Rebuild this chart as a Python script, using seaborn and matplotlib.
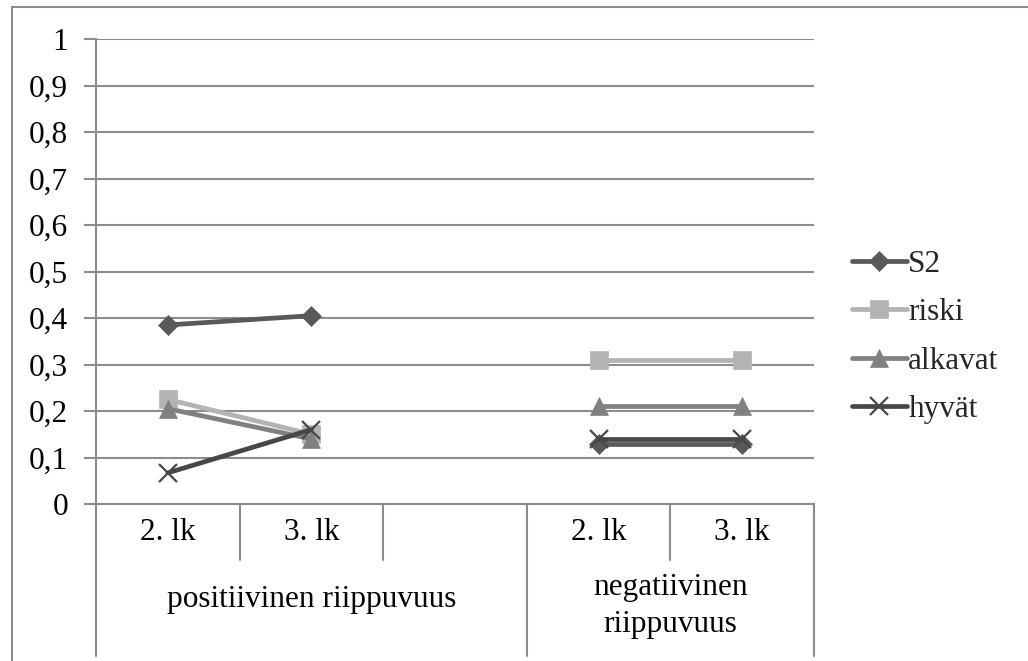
import numpy as np
import pandas as pd
import matplotlib
matplotlib.use("Agg")
import matplotlib.pyplot as plt
import matplotlib.transforms as mtransforms
from matplotlib.lines import Line2D
from matplotlib.patches import Rectangle
import seaborn as sns

# --- data -------------------------------------------------------------
grade_labels = ["2. lk", "3. lk", "", "2. lk", "3. lk"]
group_labels = ["positiivinen riippuvuus", "negatiivinen\nriippuvuus"]
group_spans = [(0, 2), (3, 4)]          # first/last category index of each group
series_names = ["S2", "riski", "alkavat", "hyvät"]
s2_values = [0.385, 0.405, None, 0.13, 0.13]
riski_values = [0.225, 0.15, None, 0.31, 0.31]
alkavat_values = [0.205, 0.14, None, 0.21, 0.21]
hyvat_values = [0.067, 0.16, None, 0.14, 0.14]
y_ticks = [0, 0.1, 0.2, 0.3, 0.4, 0.5, 0.6, 0.7, 0.8, 0.9, 1.0]
y_tick_labels = ["0", "0,1", "0,2", "0,3", "0,4", "0,5", "0,6", "0,7", "0,8", "0,9", "1"]

series_colors = ["#595959", "#b3b3b3", "#808080", "#474747"]
series_markers = ["D", "s", "^", "x"]
marker_sizes = [10, 13.5, 13.5, 13.5]

# long-form table; each group is drawn as its own line unit
rows = []
for name, vals in zip(series_names, [s2_values, riski_values, alkavat_values, hyvat_values]):
    for pos, v in enumerate(vals):
        if v is None:
            continue
        grp = 0 if pos < 3 else 1
        rows.append({"pos": pos, "value": v, "series": name, "group": grp})
df = pd.DataFrame(rows)

# --- figure -----------------------------------------------------------
sns.set_theme(style="white")
plt.rcParams["font.family"] = ["Liberation Serif", "DejaVu Serif"]
FS = 22.5
GRID = "#8c8c8c"
LW = 3.4

W, H = 1028, 661
fig = plt.figure(figsize=(W / 100, H / 100), dpi=100)
ax_left, ax_right, ax_top, ax_bottom = 96, 814, 39, 504
ax = fig.add_axes([ax_left / W, 1 - ax_bottom / H,
                   (ax_right - ax_left) / W, (ax_bottom - ax_top) / H])

for name, c, m, ms in zip(series_names, series_colors, series_markers, marker_sizes):
    sub = df[df["series"] == name]
    n_before = len(ax.lines)
    sns.lineplot(data=sub, x="pos", y="value", units="group", estimator=None,
                 sort=False, color=c, marker=m, linewidth=LW, legend=False,
                 ax=ax, zorder=3)
    for line in ax.lines[n_before:]:
        line.set_markersize(ms)
        line.set_markeredgecolor(c)
        line.set_markerfacecolor(c)
        line.set_markeredgewidth(1.6 if m == "x" else 0.5)

ax.set_xlim(-0.5, len(grade_labels) - 0.5)
ax.set_ylim(0, 1)
ax.set_yticks(y_ticks)
ax.set_yticklabels(y_tick_labels, fontsize=FS, color="black")
ax.set_xticks([])
ax.set_xlabel("")
ax.set_ylabel("")
ax.yaxis.grid(True, color=GRID, linewidth=1.5, zorder=0)
ax.set_axisbelow(True)
ax.tick_params(axis="y", length=9, width=1.5, color=GRID, pad=11, left=True)
for side in ["top", "right"]:
    ax.spines[side].set_visible(False)
for side in ["left", "bottom"]:
    ax.spines[side].set_color(GRID)
    ax.spines[side].set_linewidth(1.5)

# --- two-level category axis ----------------------------------------
trans = mtransforms.blended_transform_factory(ax.transData, fig.transFigure)
def fy(px):
    return 1 - px / H

inner_bottom = 560
outer_bottom = 656
n_cat = len(grade_labels)
group_edges = {s - 0.5 for s, _ in group_spans} | {e + 0.5 for _, e in group_spans}
for b in np.arange(-0.5, n_cat, 1.0):
    bottom = outer_bottom if b in group_edges else inner_bottom
    ax.add_line(Line2D([b, b], [fy(ax_bottom), fy(bottom)], transform=trans,
                       color=GRID, linewidth=1.5, clip_on=False))

for pos, lab in enumerate(grade_labels):
    ax.text(pos, fy(533), lab, transform=trans, ha="center", va="center",
            fontsize=FS, color="black")

group_y = [600, 606]
for (s, e), lab, gy in zip(group_spans, group_labels, group_y):
    ax.text((s + e) / 2, fy(gy), lab, transform=trans, ha="center", va="center",
            fontsize=FS, color="black", linespacing=1.35)

# --- legend -----------------------------------------------------------
handles = [Line2D([], [], color=c, marker=m, markersize=ms, linewidth=LW,
                  markeredgecolor=c, markeredgewidth=1.6 if m == "x" else 0.5)
           for c, m, ms in zip(series_colors, series_markers, marker_sizes)]
fig.legend(handles, series_names, loc="center left",
           bbox_to_anchor=(852 / W, fy(337)), frameon=False, fontsize=FS,
           handlelength=1.75, handletextpad=0.05, labelspacing=0.62,
           borderpad=0, borderaxespad=0)

# outer chart frame
fig.patches.append(Rectangle((12 / W, -0.1), 1.2, fy(7) + 0.1,
                             transform=fig.transFigure, fill=False,
                             edgecolor=GRID, linewidth=1.5))

fig.savefig("out.png", dpi=100)
